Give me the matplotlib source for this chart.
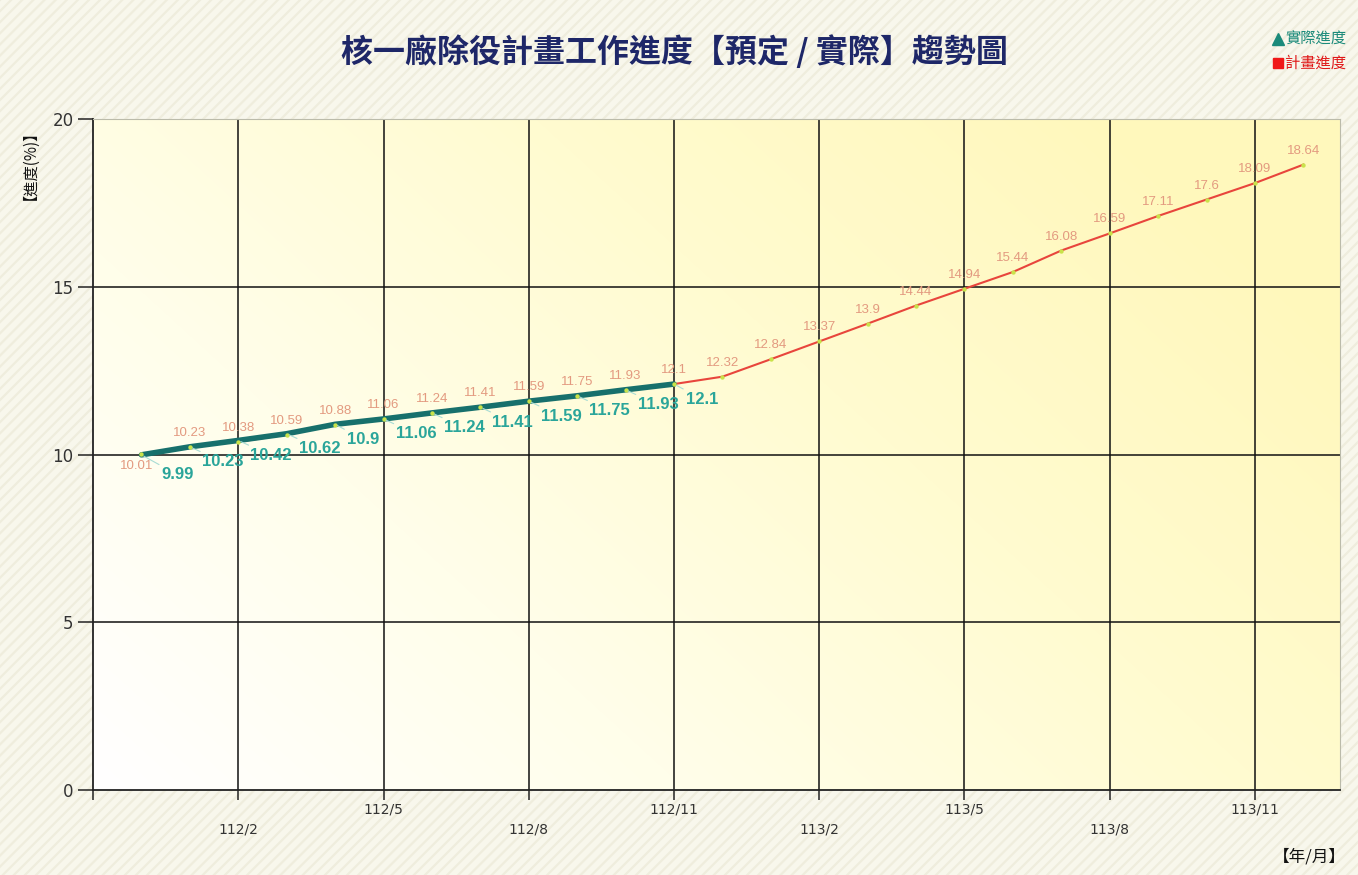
import numpy as np
import matplotlib
matplotlib.use('Agg')
import matplotlib.pyplot as plt
from matplotlib import patches
from matplotlib.colors import LinearSegmentedColormap
from matplotlib.lines import Line2D

plt.rcParams['font.family'] = ['Noto Sans CJK TC', 'DejaVu Sans']
plt.rcParams['hatch.linewidth'] = 1.6

# month labels (ROC year / month), plan and actual progress (%)
months = ['111/12', '112/1', '112/2', '112/3', '112/4', '112/5', '112/6',
          '112/7', '112/8', '112/9', '112/10', '112/11', '112/12',
          '113/1', '113/2', '113/3', '113/4', '113/5', '113/6', '113/7',
          '113/8', '113/9', '113/10', '113/11', '113/12']
plan = [10.01, 10.23, 10.38, 10.59, 10.88, 11.06, 11.24, 11.41, 11.59,
        11.75, 11.93, 12.1, 12.32, 12.84, 13.37, 13.9, 14.44, 14.94,
        15.44, 16.08, 16.59, 17.11, 17.6, 18.09, 18.64]
actual = [9.99, 10.23, 10.42, 10.62, 10.9, 11.06, 11.24, 11.41, 11.59,
          11.75, 11.93, 12.1]
yticks = [0, 5, 10, 15, 20]

title = '核一廠除役計畫工作進度【預定 / 實際】趨勢圖'

x_plan = np.arange(len(plan))
x_act = np.arange(len(actual))

fig = plt.figure(figsize=(13.58, 8.75), dpi=100)
fig.patch.set_facecolor('#F8F7EC')
# striped page background
bg = patches.Rectangle((0, 0), 1, 1, transform=fig.transFigure,
                       facecolor='#F8F7EC', edgecolor='#EFEDDD',
                       hatch='///', lw=0, zorder=-10)
fig.patches.append(bg)

ax = fig.add_axes([0.0685, 0.0971, 0.918, 0.7669])
ax.set_xlim(-1, 24.75)
ax.set_ylim(0, 20)

# diagonal white -> yellow gradient inside plot
gx, gy = np.meshgrid(np.linspace(0, 1, 300), np.linspace(0, 1, 200))
grad = np.clip((gx * 0.85 + gy * 0.5) / 1.2, 0, 1)
cmap = LinearSegmentedColormap.from_list('bgy', ['#FFFFFF', '#FFFEEA', '#FFFBD0', '#FFF8BC'])
ax.imshow(grad, extent=[0, 1, 0, 1], transform=ax.transAxes, origin='lower',
          cmap=cmap, aspect='auto', zorder=0, interpolation='bicubic')

# grid
xt = list(range(2, 24, 3))
for x in xt:
    ax.axvline(x, color='#111111', lw=1.1, zorder=1)
for y in yticks[1:]:
    ax.axhline(y, color='#111111', lw=1.1, zorder=1)

# plan line
ax.plot(x_plan, plan, color='#E8453C', lw=1.5, zorder=3)
ax.plot(x_act, actual, color='#17706C', lw=4, zorder=4, solid_capstyle='round')
ax.scatter(x_plan, plan, s=10, color='#C9E24A', zorder=5, lw=0)

# plan labels
for i, (x, v) in enumerate(zip(x_plan, plan)):
    off = (-5, -12) if i == 0 else (0, 14)
    ax.annotate(f'{v:g}', (x, v), xytext=off, textcoords='offset pixels',
                ha='center', va='center', fontsize=9.5, color='#E39A80',
                family='Liberation Sans', zorder=6)

# actual labels
for i, (x, v) in enumerate(zip(x_act, actual)):
    off = (20, -20) if i == 0 else (12, -15)
    ax.annotate(f'{v:g}', (x, v), xytext=off, textcoords='offset pixels',
                ha='left', va='center', fontsize=12, fontweight='bold',
                color='#2AA59A', family='Liberation Sans', zorder=6,
                arrowprops=dict(arrowstyle='-', color='#A8DCD4', lw=0.8,
                                shrinkA=0, shrinkB=2))

# axes look
for s in ['top', 'right']:
    ax.spines[s].set_color('#BBBBAA')
    ax.spines[s].set_linewidth(0.8)
for s in ['left', 'bottom']:
    ax.spines[s].set_color('#222222')
    ax.spines[s].set_linewidth(1.3)

ax.set_yticks(yticks)
ax.tick_params(axis='y', length=11, width=1.1, color='#222222', pad=3,
               labelsize=12, labelcolor='#333333')
ax.set_xticks([-1] + xt)
ax.set_xticklabels([''] + [months[x] for x in xt])
ax.tick_params(axis='x', length=7, width=1.1, color='#222222',
               labelsize=10, labelcolor='#333333')
for k, t in enumerate(ax.xaxis.get_major_ticks()[1:]):
    t.set_pad(16.5 if k % 2 == 0 else 2)
for lab in ax.get_xticklabels() + ax.get_yticklabels():
    lab.set_family('DejaVu Sans')

fig.text(0.497, 0.94, title, ha='center', va='center', fontsize=23,
         fontweight='bold', color='#1E2768')
fig.text(0.016, 0.82, '【進度(%)】', rotation=90, ha='center', va='center',
         fontsize=11, color='#111111')
fig.text(0.964, 0.02, '【年/月】', ha='center', va='center', fontsize=12,
         color='#111111')

handles = [Line2D([], [], ls='none', marker='^', ms=8, color='#1A8A7A'),
           Line2D([], [], ls='none', marker='s', ms=7, color='#F01818')]
leg = fig.legend(handles, ['實際進度', '計畫進度'], loc='upper right',
                 bbox_to_anchor=(0.998, 0.975), frameon=False, fontsize=11,
                 handlelength=0.6, handletextpad=0.15, labelspacing=0.45,
                 borderpad=0.1)
for t, c in zip(leg.get_texts(), ['#1A8A7A', '#E01818']):
    t.set_color(c)

fig.savefig('out.png', dpi=100, facecolor=fig.get_facecolor())
